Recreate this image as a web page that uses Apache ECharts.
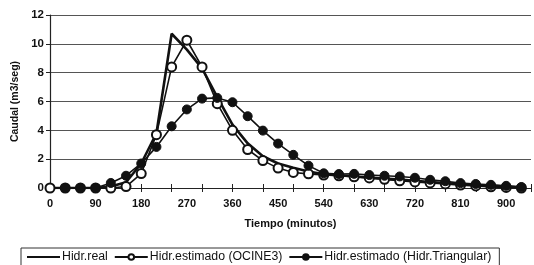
<!DOCTYPE html>
<html>
<head>
<meta charset="utf-8">
<script src="https://cdn.jsdelivr.net/npm/echarts@6/dist/echarts.min.js"></script>
<style>
html,body{margin:0;padding:0;background:#fff;}
#chart{width:534px;height:265px;}
</style>
</head>
<body>
<div id="chart"></div>
<script>
// Time (minutes)
var tiempo = [0,30,60,90,120,150,180,210,240,270,300,330,360,390,420,450,480,510,540,570,600,630,660,690,720,750,780,810,840,870,900,930];
// Series values (m3/seg)
var hidrReal = [0,0,0,0,0.1,0.4,1.7,3.8,10.7,9.6,8.3,6.3,4.4,3.1,2.2,1.7,1.4,1.15,0.95,0.88,0.8,0.72,0.65,0.58,0.5,0.42,0.35,0.28,0.2,0.15,0.1,0.05];
var hidrOcine3 = [0,0,0,0,0,0.1,1.0,3.7,8.4,10.25,8.4,5.85,4.0,2.67,1.9,1.38,1.08,0.98,0.9,0.85,0.78,0.7,0.6,0.5,0.42,0.35,0.28,0.2,0.14,0.08,0.04,0];
var hidrTriangular = [null,0,0,0,0.35,0.85,1.7,2.85,4.28,5.45,6.2,6.25,5.95,4.98,3.98,3.08,2.3,1.55,1.02,0.97,0.98,0.9,0.85,0.8,0.71,0.57,0.47,0.34,0.28,0.22,0.15,0.07];
var seriesNames = ['Hidr.real','Hidr.estimado (OCINE3)','Hidr.estimado (Hidr.Triangular)'];
var xLabelStep = 90;
var xTickStep = 60;

function pairs(vals){ return tiempo.map(function(t,i){ return [t, vals[i]]; }); }

var font = 'Liberation Sans, Arial, sans-serif';
var chart = echarts.init(document.getElementById('chart'), null, {renderer:'canvas'});
var xMax = 949;
var tickAxis = function(inside){
  return {
    type:'value', position:'bottom', min:0, max:xMax, interval:xTickStep,
    axisLine:{show:false}, splitLine:{show:false}, axisLabel:{show:false},
    axisTick:{show:true, inside:inside, length:4, lineStyle:{color:'#222', width:1}}
  };
};
chart.setOption({
  animation:false,
  backgroundColor:'#fff',
  grid:{left:50, right:0, top:15, bottom:77, containLabel:false},
  legend:{
    data:[
      {name:seriesNames[0], itemStyle:{opacity:0}},
      {name:seriesNames[1]},
      {name:seriesNames[2]}
    ],
    left:21, top:248, width:480,
    padding:[3,8,3,5],
    itemWidth:33, itemHeight:7, itemGap:6,
    borderColor:'#333', borderWidth:1,
    textStyle:{fontFamily:font, fontSize:12.3, color:'#111', padding:[0,0,0,-3]}
  },
  xAxis:[
    {
      type:'value', position:'bottom', min:0, max:xMax, interval:xLabelStep,
      name:'Tiempo (minutos)', nameLocation:'middle', nameGap:30,
      nameTextStyle:{fontFamily:font, fontSize:11, fontWeight:'bold', color:'#111'},
      axisLine:{show:true, onZero:false, lineStyle:{color:'#222', width:1.2}},
      axisTick:{show:false},
      splitLine:{show:false},
      axisLabel:{fontFamily:font, fontSize:11, fontWeight:'bold', color:'#111', margin:10,
        formatter:function(v){ return (v % xLabelStep === 0 && v <= 900) ? String(v) : ''; }}
    },
    tickAxis(false),
    tickAxis(true)
  ],
  yAxis:{
    type:'value', min:0, max:12, interval:2,
    name:'Caudal (m3/seg)', nameLocation:'middle', nameGap:26, nameRotate:90,
    nameTextStyle:{fontFamily:font, fontSize:10.5, fontWeight:'bold', color:'#111'},
    axisLine:{show:true, lineStyle:{color:'#222', width:1.2}},
    axisTick:{show:true, length:4, lineStyle:{color:'#222'}},
    splitLine:{show:true, lineStyle:{color:'#555', width:1}},
    axisLabel:{fontFamily:font, fontSize:11.5, fontWeight:'bold', color:'#111', margin:6}
  },
  series:[
    {
      name:seriesNames[0], type:'line', data:pairs(hidrReal), xAxisIndex:0,
      symbol:'none', z:2,
      lineStyle:{color:'#111', width:2.6},
      itemStyle:{color:'#111'}
    },
    {
      name:seriesNames[1], type:'line', data:pairs(hidrOcine3), xAxisIndex:0,
      symbol:'circle', symbolSize:9, showAllSymbol:true, z:3,
      lineStyle:{color:'#111', width:1.6},
      itemStyle:{color:'#fff', borderColor:'#111', borderWidth:2}
    },
    {
      name:seriesNames[2], type:'line', data:pairs(hidrTriangular), xAxisIndex:0,
      symbol:'circle', symbolSize:9, showAllSymbol:true, z:4,
      lineStyle:{color:'#111', width:1.6},
      itemStyle:{color:'#111', borderColor:'#111', borderWidth:1}
    }
  ]
});
</script>
</body>
</html>
